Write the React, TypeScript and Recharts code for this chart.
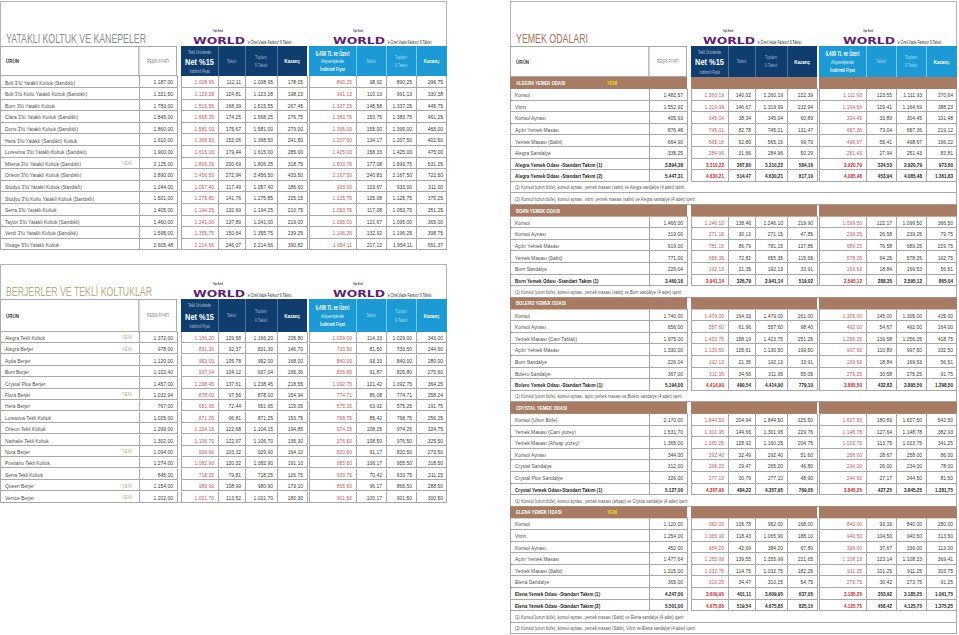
import React from "react";
import { Bar, BarChart, XAxis, YAxis } from "recharts";

const FONT = "'Liberation Sans', Arial, 'Roboto', sans-serif";
const W = 447;

const NAVY = "#0e3d6e";
const BLUE = "#1b9ad6";
const BROWN = "#a87b64";
const LINE = "#a9a9a9";
const RED = "#c45a64";
const RED_BOLD = "#c1272d";
const TXT = "#3c3c3c";

// table column edges (panel relative)
const COLS = [0, 139, 177, 181, 218, 245, 277, 307, 309, 356, 386, 416, 447];
const CELL_RIGHT = [177, 218, 245, 277, 307, 356, 386, 416, 447];

// ---- YATAKLI KOLTUK VE KANEPELER ----
const yatakliUrun = [
  "Bolt 3'lü Yataklı Koltuk (Sandıklı)",
  "Bolt 3'lü Kollu Yataklı Koltuk (Sandıklı)",
  "Born 3'lü Yataklı Koltuk",
  "Clara 3'lü Yataklı Koltuk (Sandıklı)",
  "Doris 3'lü Yataklı Koltuk (Sandıklı)",
  "Hera 3'lü Yataklı (Sandıklı) Koltuk",
  "Loresima 3'lü Yataklı Koltuk (Sandıklı)",
  "Milena 3'lü Yataklı Koltuk (Sandıklı)",
  "Orleon 3'lü Yataklı Koltuk (Sandıklı)",
  "Stüdyo 3'lü Yataklı Koltuk (Sandıklı)",
  "Stüdyo 3'lü Kollu Yataklı Koltuk (Sandıklı)",
  "Serra 3'lü Yataklı Koltuk",
  "Taylor 3'lü Yataklı Koltuk (Sandıklı)",
  "Verdi 3'lü Yataklı Koltuk (Sandıklı)",
  "Visage 3'lü Yataklı Koltuk",
];
const yatakliYeni = ["Milena 3'lü Yataklı Koltuk (Sandıklı)"];
const yatakliFiyat = [
  [1187.0, 1008.95, 112.11, 1008.95, 178.05, 890.25, 98.92, 890.25, 296.75],
  [1321.5, 1123.28, 124.81, 1123.28, 198.23, 991.13, 110.13, 991.13, 330.38],
  [1783.0, 1515.55, 168.39, 1515.55, 267.45, 1337.25, 148.58, 1337.25, 445.75],
  [1845.0, 1568.25, 174.25, 1568.25, 276.75, 1383.75, 153.75, 1383.75, 461.25],
  [1860.0, 1581.0, 175.67, 1581.0, 279.0, 1395.0, 155.0, 1395.0, 465.0],
  [1610.0, 1368.5, 152.06, 1368.5, 241.5, 1207.5, 134.17, 1207.5, 402.5],
  [1900.0, 1615.0, 179.44, 1615.0, 285.0, 1425.0, 158.33, 1425.0, 475.0],
  [2125.0, 1806.25, 200.69, 1806.25, 318.75, 1593.75, 177.08, 1593.75, 531.25],
  [2890.0, 2456.5, 272.94, 2456.5, 433.5, 2167.5, 240.83, 2167.5, 722.5],
  [1244.0, 1057.4, 117.49, 1057.4, 186.6, 933.0, 103.67, 933.0, 311.0],
  [1501.0, 1275.85, 141.76, 1275.85, 225.15, 1125.75, 125.08, 1125.75, 375.25],
  [1405.0, 1194.25, 132.69, 1194.25, 210.75, 1053.75, 117.08, 1053.75, 351.25],
  [1460.0, 1241.0, 137.89, 1241.0, 219.0, 1095.0, 121.67, 1095.0, 365.0],
  [1595.0, 1355.75, 150.64, 1355.75, 239.25, 1196.25, 132.92, 1196.25, 398.75],
  [2605.48, 2214.66, 246.07, 2214.66, 390.82, 1954.11, 217.12, 1954.11, 651.37],
];

// ---- BERJERLER VE TEKLİ KOLTUKLAR ----
const berjerUrun = [
  "Alegra Tekli Koltuk",
  "Alegra Berjer",
  "Ayda Berjer",
  "Boni Berjer",
  "Crystal Plus Berjer",
  "Flora Berjer",
  "Hera Berjer",
  "Loresima Tekli Koltuk",
  "Orleon Tekli Koltuk",
  "Nathalie Tekli Koltuk",
  "Nora Berjer",
  "Positano Tekli Koltuk",
  "Serra Tekli Koltuk",
  "Queen Berjer",
  "Venice Berjer",
];
const berjerYeni = ["Alegra Tekli Koltuk", "Alegra Berjer", "Flora Berjer", "Nora Berjer", "Queen Berjer", "Venice Berjer"];
const berjerFiyat = [
  [1372.0, 1166.2, 129.58, 1166.2, 205.8, 1029.0, 114.33, 1029.0, 343.0],
  [978.0, 831.3, 92.37, 831.3, 146.7, 733.5, 81.5, 733.5, 244.5],
  [1120.0, 952.0, 105.78, 952.0, 168.0, 840.0, 93.33, 840.0, 280.0],
  [1102.4, 937.04, 104.12, 937.04, 165.36, 826.8, 91.87, 826.8, 275.6],
  [1457.0, 1238.45, 137.61, 1238.45, 218.55, 1092.75, 121.42, 1092.75, 364.25],
  [1032.94, 878.0, 97.56, 878.0, 154.94, 774.71, 86.08, 774.71, 258.24],
  [767.0, 651.95, 72.44, 651.95, 115.05, 575.25, 63.92, 575.25, 191.75],
  [1025.0, 871.25, 96.81, 871.25, 153.75, 768.75, 85.42, 768.75, 256.25],
  [1299.0, 1104.15, 122.68, 1104.15, 194.85, 974.25, 108.25, 974.25, 324.75],
  [1302.0, 1106.7, 122.97, 1106.7, 195.3, 976.5, 108.5, 976.5, 325.5],
  [1094.0, 929.9, 103.32, 929.9, 164.1, 820.5, 91.17, 820.5, 273.5],
  [1274.0, 1082.9, 120.32, 1082.9, 191.1, 955.5, 106.17, 955.5, 318.5],
  [845.0, 718.25, 79.81, 718.25, 126.75, 633.75, 70.42, 633.75, 211.25],
  [1154.0, 980.9, 108.99, 980.9, 173.1, 865.5, 96.17, 865.5, 288.5],
  [1202.0, 1021.7, 113.52, 1021.7, 180.3, 901.5, 100.17, 901.5, 300.5],
];

// ---- YEMEK ODALARI ----
const alegraUrun = [
  "Konsol", "Vitrin", "Konsol Aynası", "Açılır Yemek Masası", "Yemek Masası (Sabit)", "Alegra Sandalye",
  "Alegra Yemek Odası -Standart Takım (1)", "Alegra Yemek Odası -Standart Takım (2)",
];
const alegraFiyat = [
  [1482.57, 1260.19, 140.02, 1260.19, 222.39, 1111.93, 123.55, 1111.93, 370.64],
  [1552.92, 1319.99, 146.67, 1319.99, 232.94, 1164.69, 129.41, 1164.69, 388.23],
  [405.93, 345.04, 38.34, 345.04, 60.89, 304.45, 33.83, 304.45, 101.48],
  [876.48, 745.01, 82.78, 745.01, 131.47, 657.36, 73.04, 657.36, 219.12],
  [664.9, 565.16, 62.8, 565.16, 99.73, 498.67, 55.41, 498.67, 166.22],
  [335.25, 284.96, 31.66, 284.96, 50.29, 251.43, 27.94, 251.43, 83.81],
  [3894.38, 3310.22, 367.8, 3310.22, 584.16, 2920.79, 324.53, 2920.79, 973.6],
  [5447.31, 4630.21, 514.47, 4630.21, 817.1, 4085.48, 453.94, 4085.48, 1361.83],
];
const alegraNot = [
  "(1) Konsol (uzun büfe), konsol aynası, yemek masası (sabit) ve Alegra sandalye (4 adet) içerir.",
  "(2) Konsol (uzun büfe), konsol aynası, vitrin, yemek masası (sabit) ve Alegra sandalye (4 adet) içerir.",
];

const bornUrun = [
  "Konsol", "Konsol Aynası", "Açılır Yemek Masası", "Yemek Masası (Sabit)", "Born Sandalye",
  "Born Yemek Odası -Standart Takım (1)",
];
const bornFiyat = [
  [1466.0, 1246.1, 138.46, 1246.1, 219.9, 1099.5, 122.17, 1099.5, 366.5],
  [319.0, 271.15, 30.13, 271.15, 47.85, 239.25, 26.58, 239.25, 79.75],
  [919.0, 781.15, 86.79, 781.15, 137.85, 689.25, 76.58, 689.25, 229.75],
  [771.0, 655.35, 72.82, 655.35, 115.65, 578.25, 64.25, 578.25, 192.75],
  [226.04, 192.13, 21.35, 192.13, 33.91, 169.53, 18.84, 169.53, 56.51],
  [3460.16, 2941.14, 326.79, 2941.14, 519.02, 2595.12, 288.35, 2595.12, 865.04],
];
const bornNot = ["(1) Konsol (uzun büfe), konsol aynası, yemek masası (sabit) ve Born sandalye (4 adet) içerir."];

const boleroUrun = [
  "Konsol", "Konsol Aynası", "Yemek Masası (Cam Tablalı)", "Açılır Yemek Masası", "Born Sandalye", "Bolero Sandalye",
  "Bolero Yemek Odası -Standart Takım (1)",
];
const boleroFiyat = [
  [1740.0, 1479.0, 164.33, 1479.0, 261.0, 1305.0, 145.0, 1305.0, 435.0],
  [656.0, 557.6, 61.96, 557.6, 98.4, 492.0, 54.67, 492.0, 164.0],
  [1675.0, 1423.75, 158.19, 1423.75, 251.25, 1256.25, 139.58, 1256.25, 418.75],
  [1330.0, 1130.5, 125.61, 1130.5, 199.5, 997.5, 110.83, 997.5, 332.5],
  [226.04, 192.13, 21.35, 192.13, 33.91, 169.53, 18.84, 169.53, 56.51],
  [367.0, 311.95, 34.66, 311.95, 55.05, 275.25, 30.58, 275.25, 91.75],
  [5194.0, 4414.9, 490.54, 4414.9, 779.1, 3895.5, 432.83, 3895.5, 1298.5],
];
const boleroNot = ["(1) Konsol (uzun büfe), konsol aynası, açılır yemek masası ve Bolero sandalye (4 adet) içerir."];

const crystalUrun = [
  "Konsol (Uzun Büfe)", "Yemek Masası (Cam yüzey)", "Yemek Masası (Ahşap yüzey)", "Konsol Aynası", "Crystal Sandalye",
  "Crystal Plus Sandalye", "Crystal Yemek Odası-Standart Takım (1)",
];
const crystalFiyat = [
  [2170.0, 1844.5, 204.94, 1844.5, 325.5, 1627.5, 180.83, 1627.5, 542.5],
  [1531.7, 1301.95, 144.66, 1301.95, 229.76, 1148.78, 127.64, 1148.78, 382.93],
  [1365.0, 1160.25, 128.92, 1160.25, 204.75, 1023.75, 113.75, 1023.75, 341.25],
  [344.0, 292.4, 32.49, 292.4, 51.6, 258.0, 28.67, 258.0, 86.0],
  [312.0, 265.2, 29.47, 265.2, 46.8, 234.0, 26.0, 234.0, 78.0],
  [326.0, 277.1, 30.79, 277.1, 48.9, 244.5, 27.17, 244.5, 81.5],
  [5127.0, 4357.95, 484.22, 4357.95, 769.05, 3845.25, 427.25, 3845.25, 1281.75],
];
const crystalNot = ["(1) Konsol (uzun büfe), konsol aynası, yemek masası (ahşap) ve Crystal sandalye (4 adet) içerir."];

const elenaUrun = [
  "Konsol", "Vitrin", "Konsol Aynası", "Açılır Yemek Masası", "Yemek Masası (Sabit)", "Elena Sandalye",
  "Elena Yemek Odası -Standart Takım (1)", "Elena Yemek Odası -Standart Takım (2)",
];
const elenaFiyat = [
  [1120.0, 952.0, 105.78, 952.0, 168.0, 840.0, 93.33, 840.0, 280.0],
  [1254.0, 1065.9, 118.43, 1065.9, 188.1, 940.5, 104.5, 940.5, 313.5],
  [452.0, 384.2, 42.69, 384.2, 67.8, 339.0, 37.67, 339.0, 113.0],
  [1477.64, 1255.99, 139.55, 1255.99, 221.65, 1108.23, 123.14, 1108.23, 369.41],
  [1215.0, 1032.75, 114.75, 1032.75, 182.25, 911.25, 101.25, 911.25, 303.75],
  [365.0, 310.25, 34.47, 310.25, 54.75, 273.75, 30.42, 273.75, 91.25],
  [4247.0, 3609.95, 401.11, 3609.95, 637.05, 3185.25, 353.92, 3185.25, 1061.75],
  [5501.0, 4675.85, 519.54, 4675.85, 825.15, 4125.75, 458.42, 4125.75, 1375.25],
];
const elenaNot = [
  "(1) Konsol (uzun büfe), konsol aynası, yemek masası (Sabit) ve Elena sandalye (4 adet) içerir.",
  "(2) Konsol (uzun büfe), konsol aynası, yemek masası (Sabit), Vitrin ve Elena sandalye (4 adet) içerir.",
];

type Row = {
  id: string;
  span: number;
  kind: "item" | "total" | "section" | "note";
  name: string;
  yeni?: boolean;
  v?: number[];
};

const fmt = (n: number) => {
  const [i, d] = n.toFixed(2).split(".");
  return i.replace(/\B(?=(\d{3})+(?!\d))/g, ".") + "," + d;
};

function itemRows(urun: string[], fiyat: number[][], yeni: string[] = []): Omit<Row, "id">[] {
  return urun.map((name, i) => ({
    span: 1,
    kind: name.includes("Standart Takım") ? "total" : "item",
    name,
    yeni: yeni.includes(name),
    v: fiyat[i],
  }));
}

function sectionRows(title: string, yeni: boolean, urun: string[], fiyat: number[][], notlar: string[]) {
  return [
    { span: 1, kind: "section" as const, name: title, yeni },
    ...itemRows(urun, fiyat),
    ...notlar.map((n) => ({ span: 1, kind: "note" as const, name: n })),
  ];
}

const withIds = (rows: Omit<Row, "id">[]): Row[] => rows.map((r, i) => ({ ...r, id: String(i) }));

const yatakliRows = withIds(itemRows(yatakliUrun, yatakliFiyat, yatakliYeni));
const berjerRows = withIds(itemRows(berjerUrun, berjerFiyat, berjerYeni));
const yemekRows = withIds([
  ...sectionRows("ALEGRA YEMEK ODASI", true, alegraUrun, alegraFiyat, alegraNot),
  ...sectionRows("BORN YEMEK ODASI", false, bornUrun, bornFiyat, bornNot),
  ...sectionRows("BOLERO YEMEK ODASI", false, boleroUrun, boleroFiyat, boleroNot),
  ...sectionRows("CRYSTAL YEMEK ODASI", false, crystalUrun, crystalFiyat, crystalNot),
  ...sectionRows("ELENA YEMEK ODASI", true, elenaUrun, elenaFiyat, elenaNot),
]);

// condensed text: horizontally squeezed Liberation Sans
function T({
  x,
  y,
  size,
  fill,
  children,
  anchor = "start",
  weight = 400,
  sx = 0.8,
  family = FONT,
}: {
  x: number;
  y: number;
  size: number;
  fill: string;
  children: React.ReactNode;
  anchor?: "start" | "middle" | "end";
  weight?: number;
  sx?: number;
  family?: string;
}) {
  return (
    <text
      transform={`translate(${x},${y}) scale(${sx},1)`}
      textAnchor={anchor}
      dominantBaseline="central"
      fontSize={size}
      fontWeight={weight}
      fill={fill}
      fontFamily={family}
    >
      {children}
    </text>
  );
}

function makeRowShape(yeniColor: string, yeniX: number) {
  return (props: any) => {
    const { x, y, width, height, payload } = props;
    const r = payload as Row;
    const k = width / W;
    const px = (c: number) => x + c * k;
    const mid = y + height / 2 + 0.3;
    const bottom = Math.round(y + height) - 0.5;

    if (r.kind === "section") {
      return (
        <g>
          <rect x={px(0)} y={y} width={177 * k} height={height} fill={BROWN} />
          <rect x={px(181)} y={y} width={126 * k} height={height} fill={BROWN} />
          <rect x={px(309)} y={y} width={138 * k} height={height} fill={BROWN} />
          <T x={px(6)} y={mid} size={5.4} weight={700} fill="#fff">
            {r.name}
          </T>
          {r.yeni && (
            <T x={px(97)} y={mid} size={5.4} weight={700} fill="#f2df00">
              YENİ
            </T>
          )}
        </g>
      );
    }

    if (r.kind === "note") {
      return (
        <g>
          <line x1={px(0)} x2={px(447)} y1={bottom} y2={bottom} stroke={LINE} strokeWidth={1} />
          <line x1={px(0) + 0.5} x2={px(0) + 0.5} y1={y} y2={y + height} stroke={LINE} />
          <line x1={px(447) - 0.5} x2={px(447) - 0.5} y1={y} y2={y + height} stroke={LINE} />
          <T x={px(5)} y={mid} size={5.1} fill="#555">
            {r.name}
          </T>
        </g>
      );
    }

    const bold = r.kind === "total";
    return (
      <g>
        {[[0, 177], [181, 307], [309, 447]].map(([a, b]) => (
          <line key={a} x1={px(a)} x2={px(b)} y1={bottom} y2={bottom} stroke={LINE} strokeWidth={1} />
        ))}
        {COLS.map((c) => {
          const xx = Math.round(px(c)) + (c === 447 ? -0.5 : 0.5);
          return <line key={c} x1={xx} x2={xx} y1={y} y2={y + height} stroke={LINE} strokeWidth={1} />;
        })}
        <T
          x={px(5)}
          y={mid}
          size={6.1}
          sx={bold ? 0.76 : 0.8}
          weight={bold ? 700 : 400}
          fill={bold ? "#1e1e1e" : "#505050"}
        >
          {r.name}
        </T>
        {r.yeni && (
          <T x={px(yeniX)} y={mid} size={5.4} fill={yeniColor}>
            YENİ
          </T>
        )}
        {(r.v || []).map((val, i) => (
          <T
            key={i}
            x={px(CELL_RIGHT[i] - 4)}
            y={mid}
            anchor="end"
            size={6.1}
            sx={bold ? 0.76 : 0.82}
            weight={bold ? 700 : 400}
            fill={i === 1 || i === 5 ? (bold ? RED_BOLD : RED) : bold ? "#1e1e1e" : TXT}
          >
            {fmt(val)}
          </T>
        ))}
      </g>
    );
  };
}

function Logo({ x0, base }: { x0: number; base: number }) {
  return (
    <g>
      <text
        transform={`translate(${x0 + 25},${base - 11.6}) scale(0.8,1)`}
        textAnchor="middle"
        fontSize={2.6}
        fontWeight={700}
        fill="#2a2f6e"
        fontFamily={FONT}
      >
        Yapı Kredi
      </text>
      <text
        transform={`translate(${x0},${base}) scale(1.38,1)`}
        fontSize={9}
        fontWeight={900}
        fill="#5f1f73"
        fontFamily="'DejaVu Sans', sans-serif"
      >
        WORLD
      </text>
      <text
        transform={`translate(${x0 + 54},${base}) scale(0.62,1)`}
        fontSize={5.6}
        fill="#333"
        fontFamily={FONT}
      >
        'e Özel Vade Farksız 9 Taksit
      </text>
    </g>
  );
}

function Header({ top, h }: { top: number; h: number }) {
  const cy = top + h / 2;
  const f = (p: number) => top + h * p;
  const sepNavy = "#4d74a0";
  const sepBlue = "#7ec8ec";
  const dimNavy = "#9fb2cc";
  const dimBlue = "#a9dcf4";
  return (
    <g>
      <rect x={0.5} y={top + 0.5} width={138.5} height={h - 1} fill="#fff" stroke={LINE} />
      <rect x={139} y={top + 0.5} width={37.5} height={h - 1} fill="#fff" stroke={LINE} />
      <T x={6} y={cy} size={5.6} weight={700} fill="#333">ÜRÜN</T>
      <T x={158} y={cy} anchor="middle" size={5.3} sx={0.66} fill="#777">PEŞİN FİYATI</T>

      <rect x={181} y={top} width={126} height={h} fill={NAVY} />
      {[218, 245, 277].map((c) => (
        <line key={c} x1={c + 0.5} x2={c + 0.5} y1={top} y2={top + h} stroke={sepNavy} />
      ))}
      <T x={199.5} y={f(0.2)} anchor="middle" size={5.2} sx={0.66} fill="#b8c6da">Tekli Ürünlerde</T>
      <T x={199.5} y={f(0.52)} anchor="middle" size={9.5} sx={0.78} weight={700} fill="#fff">Net %15</T>
      <T x={199.5} y={f(0.83)} anchor="middle" size={5.2} sx={0.66} fill="#b8c6da">İndirimli Fiyat</T>
      <T x={231.5} y={cy} anchor="middle" size={5.3} sx={0.7} fill={dimNavy}>Taksit</T>
      <T x={261} y={f(0.37)} anchor="middle" size={5.3} sx={0.7} fill={dimNavy}>Toplam</T>
      <T x={261} y={f(0.63)} anchor="middle" size={5.3} sx={0.7} fill={dimNavy}>9 Taksit</T>
      <T x={292} y={cy} anchor="middle" size={6} sx={0.75} weight={700} fill="#fff">Kazanç</T>

      <rect x={309} y={top} width={138} height={h} fill={BLUE} />
      {[356, 386, 416].map((c) => (
        <line key={c} x1={c + 0.5} x2={c + 0.5} y1={top} y2={top + h} stroke={sepBlue} />
      ))}
      <T x={332.5} y={f(0.25)} anchor="middle" size={7.2} sx={0.58} weight={700} fill="#fff">6.400 TL ve Üzeri</T>
      <T x={332.5} y={f(0.52)} anchor="middle" size={5.8} sx={0.66} fill="#e6f4fb">Alışverişlerde</T>
      <T x={332.5} y={f(0.77)} anchor="middle" size={5.8} sx={0.66} weight={700} fill="#f2f9fd">İndirimli Fiyat</T>
      <T x={371} y={cy} anchor="middle" size={5.3} sx={0.7} fill={dimBlue}>Taksit</T>
      <T x={401} y={f(0.37)} anchor="middle" size={5.3} sx={0.7} fill={dimBlue}>Toplam</T>
      <T x={401} y={f(0.63)} anchor="middle" size={5.3} sx={0.7} fill={dimBlue}>9 Taksit</T>
      <T x={431.5} y={cy} anchor="middle" size={6} sx={0.75} weight={700} fill="#fff">Kazanç</T>
    </g>
  );
}

function Panel({
  left,
  top,
  height,
  headerTop,
  headerH,
  title,
  titleColor,
  titleLen,
  rows,
  yeniColor,
}: {
  left: number;
  top: number;
  height: number;
  headerTop: number;
  headerH: number;
  title: string;
  titleColor: string;
  titleLen: number;
  rows: Row[];
  yeniColor: string;
}) {
  const rowsTop = headerTop + headerH;
  const rowsH = height - rowsTop;
  return (
    <div style={{ position: "absolute", left, top, width: W, height }}>
      <svg width={W} height={height} style={{ position: "absolute", left: 0, top: 0 }}>
        <rect x={0.5} y={0.5} width={W - 1} height={height - 1} fill="#fff" stroke="#b5b5b5" />
        <text
          x={6}
          y={headerTop - 3}
          fontSize={13.5}
          fill={titleColor}
          fontFamily={FONT}
          textLength={titleLen}
          lengthAdjust="spacingAndGlyphs"
        >
          {title}
        </text>
        <Logo x0={193} base={headerTop - 2} />
        <Logo x0={333} base={headerTop - 2} />
        <Header top={headerTop} h={headerH} />
      </svg>
      <div style={{ position: "absolute", left: 0, top: rowsTop }}>
        <BarChart
          width={W}
          height={rowsH}
          data={rows}
          layout="vertical"
          margin={{ top: 0, right: 0, bottom: 0, left: 0 }}
          barCategoryGap={0}
          barGap={0}
        >
          <XAxis type="number" domain={[0, 1]} hide />
          <YAxis type="category" dataKey="id" hide />
          <Bar dataKey="span" isAnimationActive={false} shape={makeRowShape(yeniColor, 122)} />
        </BarChart>
      </div>
    </div>
  );
}

export default function App() {
  return (
    <div style={{ position: "absolute", left: 0, top: 0, width: 959, height: 635, background: "#fff", overflow: "hidden" }}>
      <Panel
        left={0}
        top={1}
        height={249}
        headerTop={45}
        headerH={30}
        title="YATAKLI KOLTUK VE KANEPELER"
        titleColor="#8b8d90"
        titleLen={140}
        rows={yatakliRows}
        yeniColor="#a8a8a8"
      />
      <Panel
        left={0}
        top={264}
        height={239}
        headerTop={35}
        headerH={33}
        title="BERJERLER VE TEKLİ KOLTUKLAR"
        titleColor="#b9ac86"
        titleLen={146}
        rows={berjerRows}
        yeniColor="#b9ad7e"
      />
      <Panel
        left={510}
        top={1}
        height={633}
        headerTop={45}
        headerH={31}
        title="YEMEK ODALARI"
        titleColor="#a9735b"
        titleLen={72}
        rows={yemekRows}
        yeniColor="#b9ad7e"
      />
    </div>
  );
}
